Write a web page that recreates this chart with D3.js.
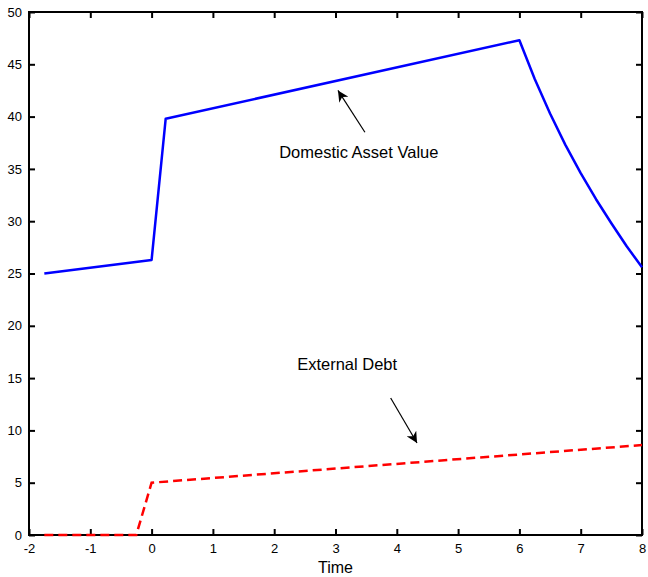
<!DOCTYPE html>
<html>
<head>
<meta charset="utf-8">
<script src="https://cdn.jsdelivr.net/npm/d3@7"></script>
<style>
  body { margin: 0; background: #fff; }
  text { font-family: "Liberation Sans", Arial, sans-serif; }
</style>
</head>
<body>
<div id="chart"></div>
<script>
// domestic asset value (blue, solid)
let assetTime = [-1.75, 0, 0.23, 6, 6.25, 6.5, 6.75, 7, 7.25, 7.5, 7.75, 8];
let assetValue = [25.0, 26.3, 39.8, 47.3, 43.6, 40.3, 37.3, 34.6, 32.1, 29.8, 27.6, 25.6];

// external debt (red, dashed)
let debtTime = [-1.75, -0.25, 0, 8];
let debtValue = [0, 0, 5.0, 8.6];

// ticks
let xTicks = [-2, -1, 0, 1, 2, 3, 4, 5, 6, 7, 8];
let yTicks = [0, 5, 10, 15, 20, 25, 30, 35, 40, 45, 50];

// annotations: text position and arrow tail -> tip, in data units
let notes = [
  {label: "Domestic Asset Value", tx: 3.38, ty: 36.0, x1: 3.48, y1: 38.5, x2: 3.04, y2: 42.5},
  {label: "External Debt", tx: 3.19, ty: 15.8, x1: 3.9, y1: 13.1, x2: 4.33, y2: 8.8}
];

let margin = {top: 12, right: 6, bottom: 42, left: 29};
let W = 648, H = 577;
let w = W - margin.left - margin.right;
let h = H - margin.top - margin.bottom;

let svg = d3.select("#chart").append("svg")
  .attr("width", W)
  .attr("height", H);

svg.append("defs").append("marker")
  .attr("id", "head")
  .attr("viewBox", "0 0 10 10")
  .attr("refX", 10).attr("refY", 5)
  .attr("markerWidth", 11).attr("markerHeight", 11)
  .attr("markerUnits", "userSpaceOnUse")
  .attr("orient", "auto")
  .append("path")
  .attr("d", "M0,0 L10,5 L0,10 L3,5 Z")
  .attr("fill", "#000");

let g = svg.append("g")
  .attr("transform", "translate(" + margin.left + "," + margin.top + ")");

let x = d3.scaleLinear().domain([-2, 8]).range([0, w]);
let y = d3.scaleLinear().domain([0, 50]).range([h, 0]);

// plain hyphen for negatives, like the original
let fmt = function(d) { return String(d); };

// axes, ticks pointing inward on all four sides
function styleAxis(sel) {
  sel.selectAll("path").remove();
  sel.selectAll("line").attr("stroke", "#000").attr("stroke-width", 2);
  sel.selectAll("text").attr("fill", "#000").style("font-size", "13px");
}

g.append("g").attr("transform", "translate(0," + h + ")")
  .call(d3.axisBottom(x).tickValues(xTicks).tickSize(-6).tickPadding(9).tickFormat(fmt))
  .call(styleAxis);
g.append("g")
  .call(d3.axisTop(x).tickValues(xTicks).tickSize(-6).tickFormat(""))
  .call(styleAxis);
g.append("g")
  .call(d3.axisLeft(y).tickValues(yTicks).tickSize(-6).tickPadding(7).tickFormat(fmt))
  .call(styleAxis);
g.append("g").attr("transform", "translate(" + w + ",0)")
  .call(d3.axisRight(y).tickValues(yTicks).tickSize(-6).tickFormat(""))
  .call(styleAxis);

g.append("rect")
  .attr("width", w).attr("height", h)
  .attr("fill", "none").attr("stroke", "#000").attr("stroke-width", 2);

let line = d3.line()
  .x(function(d) { return x(d[0]); })
  .y(function(d) { return y(d[1]); });

g.append("path")
  .datum(d3.zip(assetTime, assetValue))
  .attr("fill", "none")
  .attr("stroke", "#0000ff")
  .attr("stroke-width", 2.5)
  .attr("stroke-linejoin", "round")
  .attr("d", line);

g.append("path")
  .datum(d3.zip(debtTime, debtValue))
  .attr("fill", "none")
  .attr("stroke", "#ff0000")
  .attr("stroke-width", 2.5)
  .attr("stroke-dasharray", "9,5")
  .attr("d", line);

// annotations
notes.forEach(function(n) {
  g.append("text")
    .attr("x", x(n.tx)).attr("y", y(n.ty))
    .attr("text-anchor", "middle")
    .style("font-size", "16.5px")
    .text(n.label);
  g.append("line")
    .attr("x1", x(n.x1)).attr("y1", y(n.y1))
    .attr("x2", x(n.x2)).attr("y2", y(n.y2))
    .attr("stroke", "#000").attr("stroke-width", 1.2)
    .attr("marker-end", "url(#head)");
});

g.append("text")
  .attr("x", w / 2).attr("y", h + 38)
  .attr("text-anchor", "middle")
  .style("font-size", "16px")
  .text("Time");
</script>
</body>
</html>
